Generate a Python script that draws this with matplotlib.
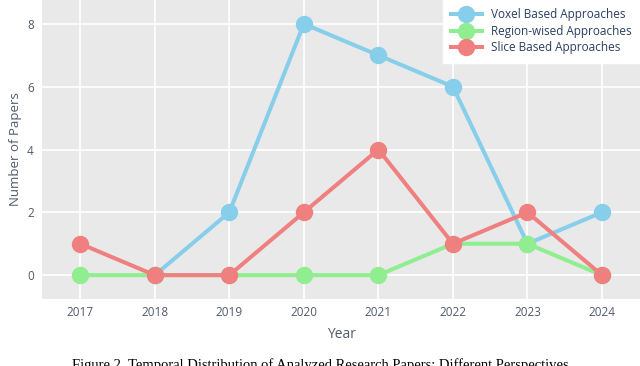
import matplotlib
matplotlib.use('Agg')
import matplotlib.pyplot as plt

# paper counts per year for each approach
Years = [2017, 2018, 2019, 2020, 2021, 2022, 2023, 2024]
Voxel_Years = [2018, 2019, 2020, 2021, 2022, 2023, 2024]
Voxel_Counts = [0, 2, 8, 7, 6, 1, 2]
Region_Counts = [0, 0, 0, 0, 0, 1, 1, 0]
Slice_Counts = [1, 0, 0, 2, 4, 1, 2, 0]

plt.rcParams['font.family'] = ['Open Sans', 'DejaVu Sans']
tick_color = '#505a6b'

fig = plt.figure(figsize=(6.4, 3.66), dpi=100)
ax = fig.add_axes([0.066, 0.183, 0.934, 0.817])
ax.set_facecolor('#e9e9e9')

ax.plot(Voxel_Years, Voxel_Counts, '-o', color='#87ceeb', lw=2.9, ms=11.5,
        label='Voxel Based Approaches')
ax.plot(Years, Region_Counts, '-o', color='#90ee90', lw=2.9, ms=11.5,
        label='Region-wised Approaches')
ax.plot(Years, Slice_Counts, '-o', color='#f08080', lw=2.9, ms=11.5,
        label='Slice Based Approaches')

ax.set_xlim(2016.49, 2024.51)
ax.set_ylim(-0.76, 8.76)
ax.set_xticks(Years)
ax.set_yticks([0, 2, 4, 6, 8])
ax.grid(color='white', lw=1.2)
ax.set_axisbelow(True)
for s in ax.spines.values():
    s.set_visible(False)
ax.tick_params(length=0, labelsize=8.5, colors=tick_color, pad=5)
ax.tick_params(axis='y', pad=6)

ax.set_xlabel('Year', fontsize=10, color=tick_color, labelpad=6)
ax.set_ylabel('Number of Papers', fontsize=9.5, color=tick_color, labelpad=4)

leg = ax.legend(loc='upper right', fontsize=8.5, frameon=True, fancybox=False,
                borderaxespad=0, handlelength=2.6, labelspacing=0.3,
                borderpad=0.7, framealpha=1)
leg.get_frame().set_edgecolor('white')
for t in leg.get_texts():
    t.set_color('#2a3f5f')

fig.text(0.5, 0.022, 'Figure 2. Temporal Distribution of Analyzed Research Papers: Different Perspectives',
         ha='center', va='top', fontsize=10.5, family='Liberation Serif')

fig.savefig('out.png', dpi=100)
